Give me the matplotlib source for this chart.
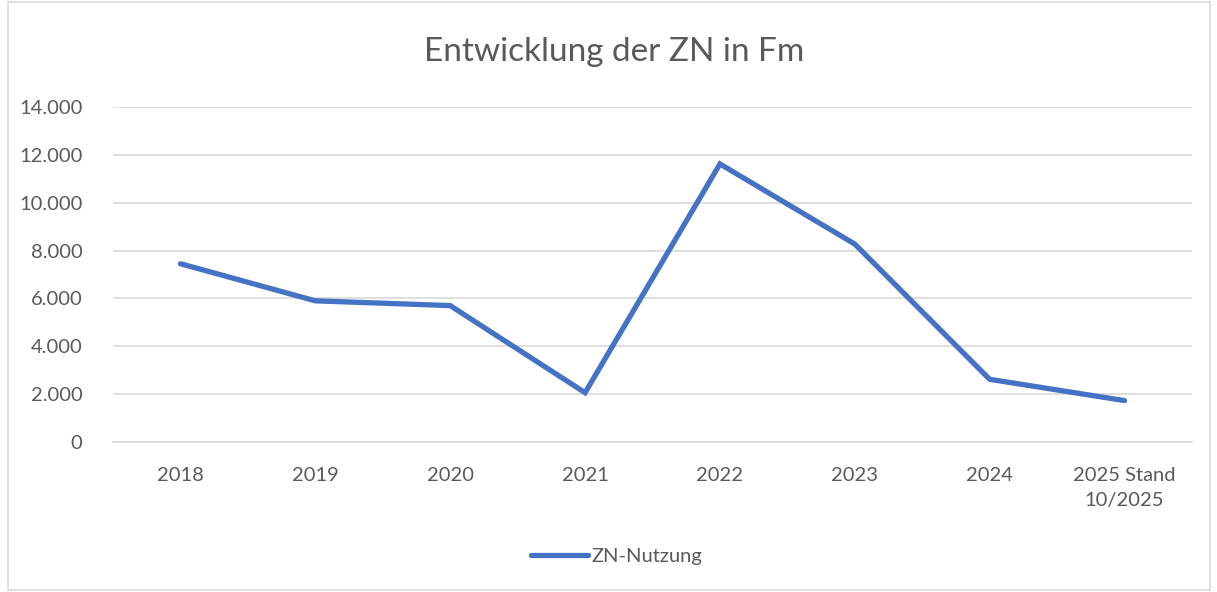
import matplotlib.pyplot as plt
from matplotlib.patches import Rectangle
from matplotlib.ticker import FuncFormatter

# Data
categories = ['2018', '2019', '2020', '2021', '2022', '2023', '2024', '2025 Stand\n10/2025']
zn_nutzung = [7450, 5900, 5700, 2060, 11620, 8270, 2620, 1730]

plt.rcParams['font.family'] = ['Lato', 'DejaVu Sans']
grey = '#595959'
blue = '#4472C4'

fig = plt.figure(figsize=(12.17, 5.92), dpi=100)
ax = fig.add_axes([113 / 1217, 1 - 442 / 592, (1192 - 113) / 1217, (442 - 107) / 592])

x = list(range(len(categories)))
ax.plot(x, zn_nutzung, color=blue, linewidth=3.8, solid_joinstyle='miter',
        solid_capstyle='round', label='ZN-Nutzung')

ax.set_xlim(-0.5, len(categories) - 0.5)
ax.set_ylim(0, 14000)
ax.set_yticks(range(0, 14001, 2000))
ax.yaxis.set_major_formatter(FuncFormatter(lambda v, p: f'{int(v):,}'.replace(',', '.')))
ax.set_xticks(x)
ax.set_xticklabels(categories, linespacing=1.55, va='top')

ax.grid(axis='y', color='#d9d9d9', linewidth=1.2)
ax.set_axisbelow(True)
for s in ['top', 'right', 'left']:
    ax.spines[s].set_visible(False)
ax.spines['bottom'].set_color('#d9d9d9')
ax.spines['bottom'].set_linewidth(1.2)
ax.tick_params(axis='both', length=0, colors=grey, labelsize=14.5)
ax.tick_params(axis='y', pad=22)
ax.tick_params(axis='x', pad=18)

fig.text(614 / 1217, 1 - 52 / 592, 'Entwicklung der ZN in Fm', ha='center', va='center',
         fontsize=24, color=grey)

leg = fig.legend(loc='center', bbox_to_anchor=(617 / 1217, 1 - 556 / 592), frameon=False,
                 fontsize=14.5, handlelength=2.8, handletextpad=0.2)
for t in leg.get_texts():
    t.set_color(grey)

fig.patches.append(Rectangle((8 / 1217, 2 / 592), 1202 / 1217, 588 / 592, transform=fig.transFigure,
                             fill=False, edgecolor='#d9d9d9', linewidth=1.2))

fig.savefig('out.png', dpi=100)
